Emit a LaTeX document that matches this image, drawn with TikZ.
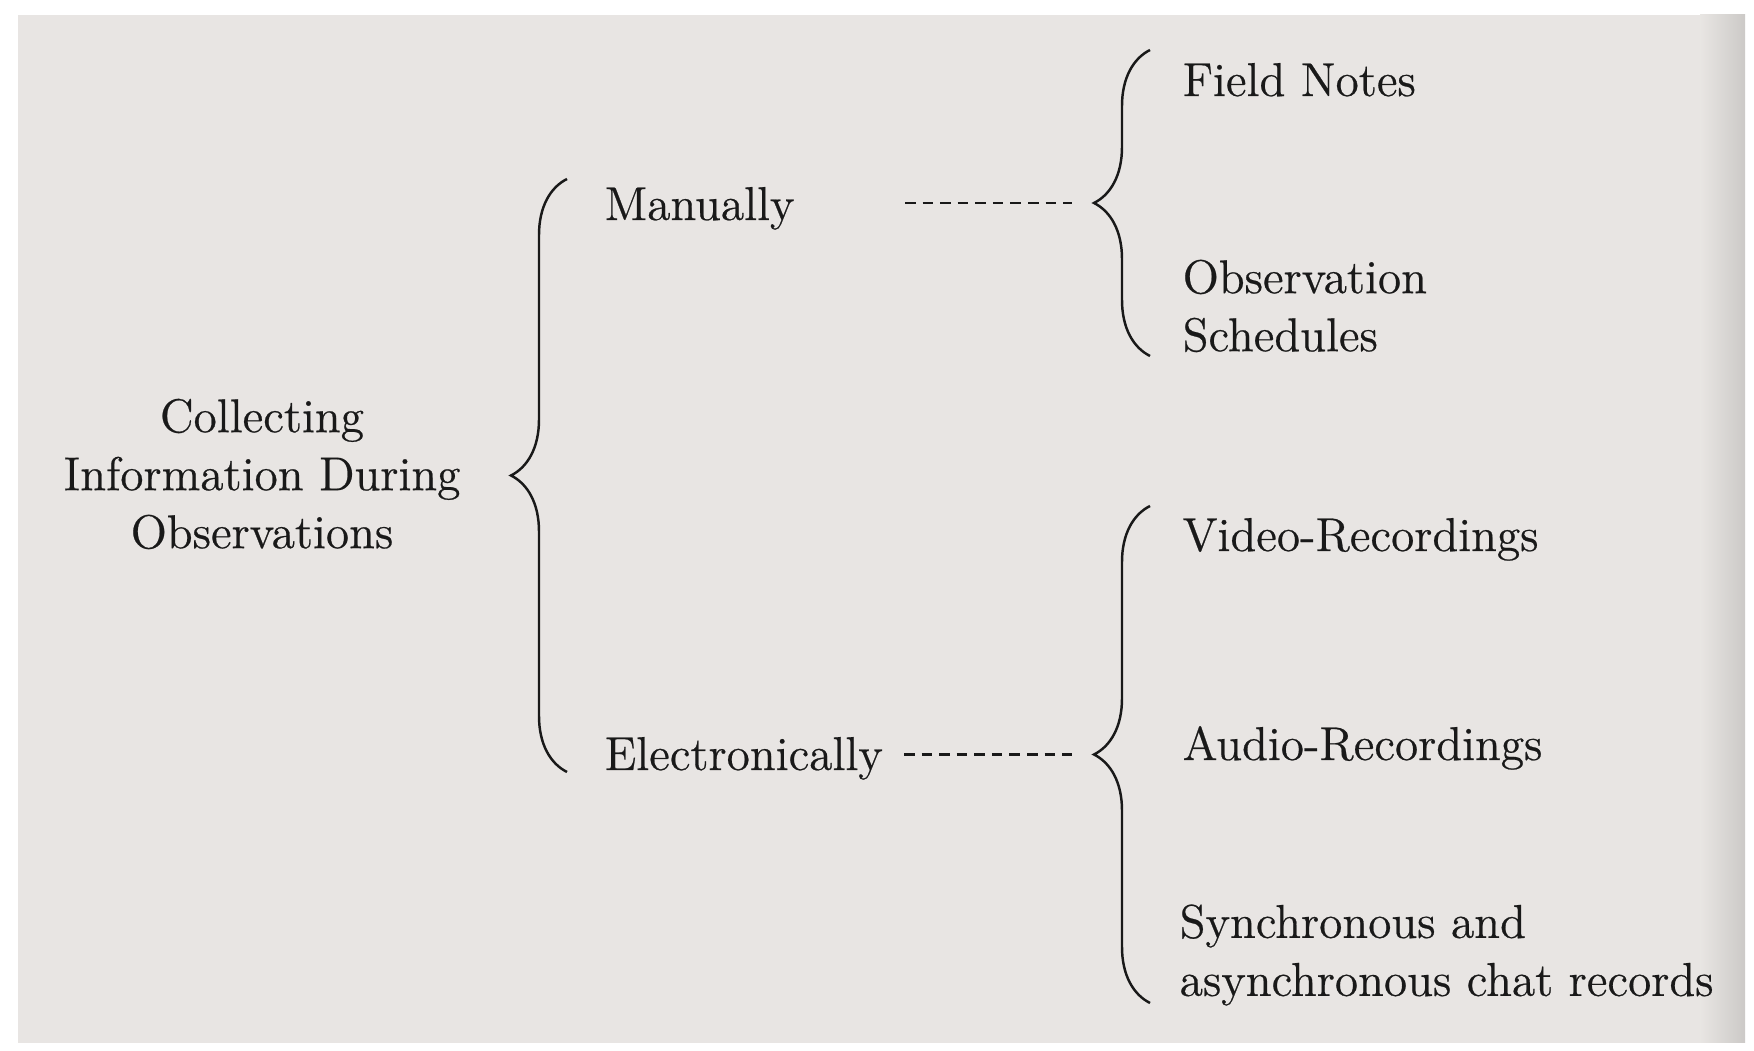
\documentclass[tikz,border=0pt]{standalone}
\usepackage{tikz}
\usepackage{fontspec}
\usetikzlibrary{decorations.pathreplacing}
\newfontfamily\textelivre{Latin Modern Roman}[FakeBold=0.5]
\definecolor{papier}{rgb}{0.91,0.90,0.89}
\definecolor{ombre}{rgb}{0.80,0.79,0.78}
\definecolor{encre}{rgb}{0.10,0.10,0.10}

\begin{document}
\begin{tikzpicture}[thin]
  \tikzstyle{item}=[inner sep=0pt, text=encre, font=\textelivre\fontsize{13.5}{16.5}\selectfont]
  \tikzstyle{accolade}=[draw=encre, line width=0.7pt, decorate, decoration={brace, amplitude=0.56cm}]
  \tikzstyle{tiret}=[draw=encre, line width=0.6pt, dash pattern=on 3pt off 2pt]

  \useasboundingbox (0,0) rectangle (17.54,10.51);
  \fill[white] (0,0) rectangle (17.54,10.51);
  \fill[papier] (0.18,0.08) rectangle (17.00,10.36);
  \shade[left color=papier, right color=ombre] (17.00,0.08) rectangle (17.45,10.36);

	\node[item, align=center] (Col) at (2.62,5.77) {Collecting\\Information During\\Observations};
	\node[item, anchor=base west] (Man) at (6.04,8.31) {Manually};
	\node[item, anchor=base west] (Ele) at (6.04,2.81) {Electronically};
	\node[item, anchor=base west] (FN) at (11.82,9.55) {Field Notes};
	\node[item, align=left, anchor=west] (OS) at (11.82,7.45) {Observation\\Schedules};
	\node[item, anchor=base west] (VR) at (11.82,5.00) {Video-Recordings};
	\node[item, anchor=base west] (AR) at (11.82,2.91) {Audio-Recordings};
	\node[item, align=left, anchor=west] (SC) at (11.79,0.96) {Synchronous and\\asynchronous chat records};

	% accolades
	\draw[accolade] (5.67,2.79) -- (5.67,8.72);
	\draw[accolade] (11.50,6.95) -- (11.50,10.01);
	\draw[accolade] (11.50,0.48) -- (11.50,5.45);

	\coordinate (tipH) at (10.94,8.48);
	\coordinate (tipB) at (10.94,2.965);
	\coordinate (dM) at (9.05,8.48);
	\coordinate (dE) at (9.04,2.965);

	\path
		(dM) edge [tiret, shorten >=0.22cm] (tipH)
		(dE) edge [tiret, shorten >=0.22cm] (tipB)
		;

\end{tikzpicture}
\end{document}
